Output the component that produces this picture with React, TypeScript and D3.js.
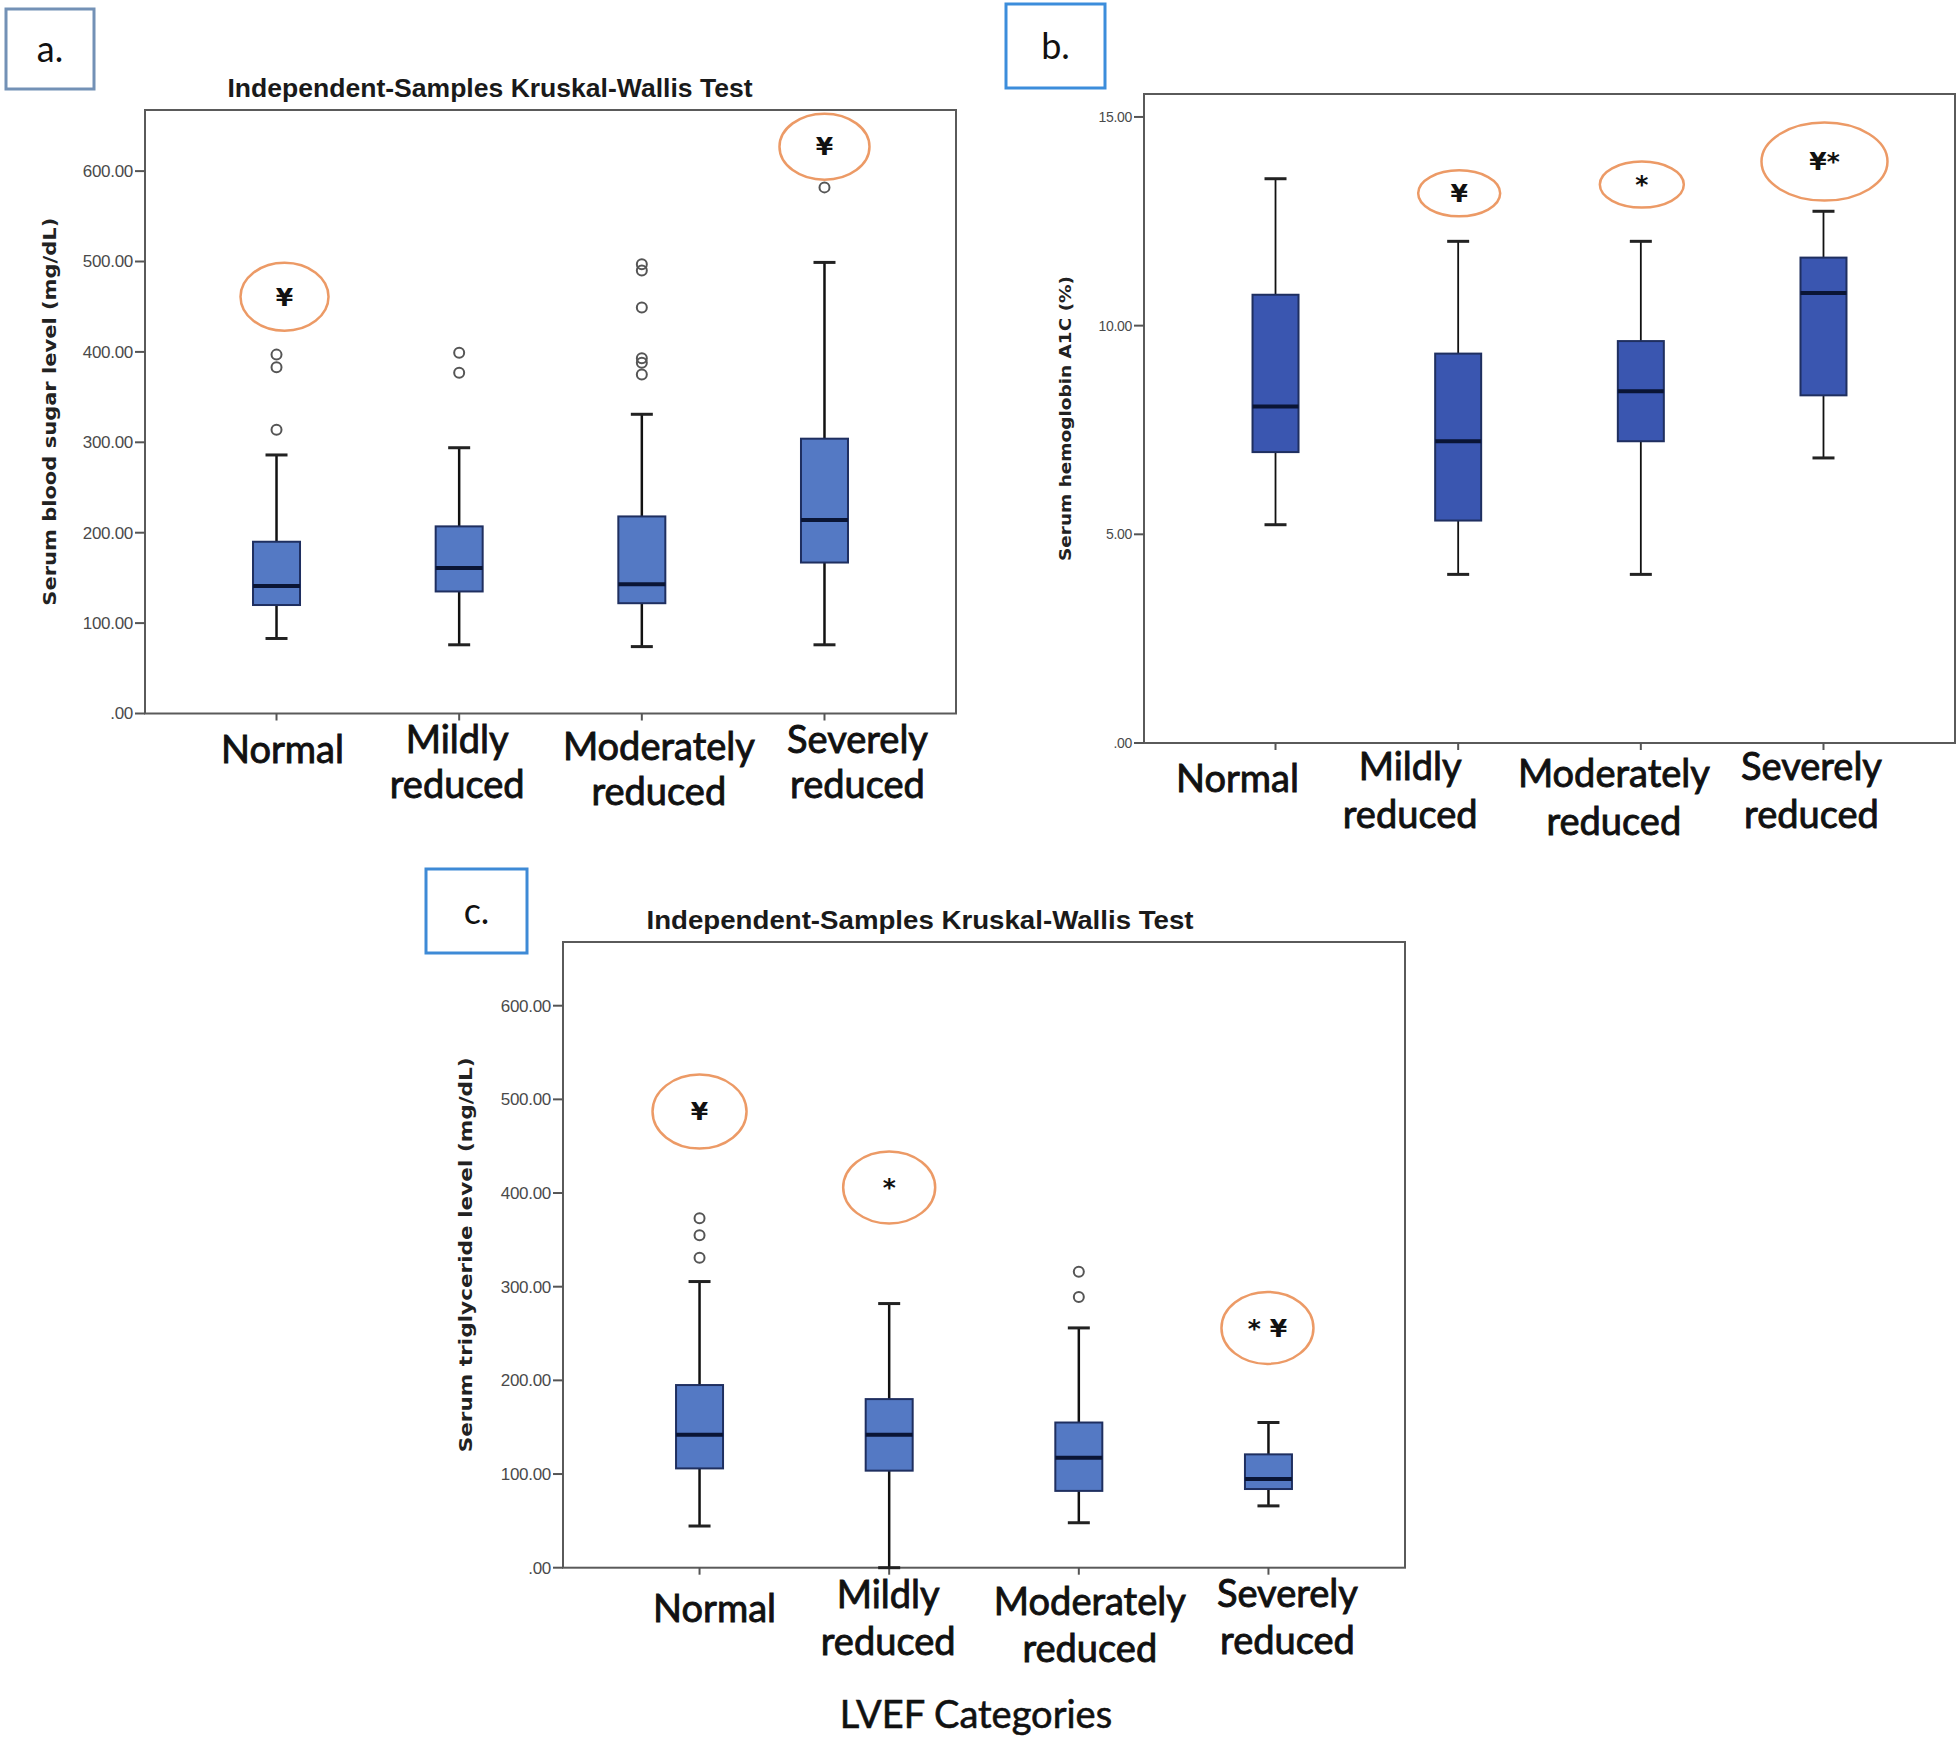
import { useMemo } from 'react';
import * as d3 from 'd3';

// LVEF groups shared by the three panels
const categories = ['Normal', 'Mildly reduced', 'Moderately reduced', 'Severely reduced'];

// box stats: [lower whisker, Q1, median, Q3, upper whisker]
const sugarStats = [
  [83, 120, 141, 190, 286],
  [76, 135, 161, 207, 294],
  [74, 122, 143, 218, 331],
  [76, 167, 214, 304, 499],
];
const sugarOutliers = [[314, 383, 397], [377, 399], [375, 388, 393, 449, 490, 497], [582]];
const sugarMarks = [
  { cat: 0, y: 461, text: '¥' },
  { cat: 3, y: 627, text: '¥' },
];
const sugarTicks = [0, 100, 200, 300, 400, 500, 600];

const hba1cStats = [
  [5.23, 6.97, 8.06, 10.74, 13.52],
  [4.04, 5.33, 7.23, 9.33, 12.02],
  [4.04, 7.23, 8.43, 9.63, 12.02],
  [6.83, 8.33, 10.78, 11.63, 12.74],
];
const hba1cOutliers: number[][] = [[], [], [], []];
const hba1cMarks = [
  { cat: 1, y: 13.17, text: '¥' },
  { cat: 2, y: 13.38, text: '*' },
  { cat: 3, y: 13.93, text: '¥*' },
];
const hba1cTicks = [0, 5, 10, 15];

const tgStats = [
  [44.5, 106, 142, 195, 305.5],
  [0, 103.6, 142, 180, 282],
  [48, 82, 117.5, 155, 256],
  [66, 84, 94.7, 121, 155],
];
const tgOutliers = [[331, 355, 373], [], [289, 316], []];
const tgMarks = [
  { cat: 0, y: 487, text: '¥' },
  { cat: 1, y: 406, text: '*' },
  { cat: 3, y: 256, text: '* ¥' },
];
const tgTicks = [0, 100, 200, 300, 400, 500, 600];

const fmt = (d: number) => (d === 0 ? '.00' : d.toFixed(2));

const LABEL_FONT = "Lato, 'Open Sans', sans-serif";

interface PanelProps {
  stats: number[][];
  outliers: number[][];
  marks: { cat: number; y: number; text: string }[];
  ticks: number[];
  yMax: number;
  frame: { x0: number; x1: number; y0: number; y1: number };
  boxWidth: number;
  fill: string;
  whisker: number;
  tickFont: number;
  yTitle: string;
  yTitleX: number;
  yTitleLen: number;
  yTitleFont: number;
  title?: { x: number; y: number; len: number };
  ellipses: [number, number, number][]; // rx, ry, dx
  labelDx: number[];
  labelBase: number[];
  lineGap: number;
  tag: { x: number; y: number; w: number; h: number; text: string; color: string };
}

function BoxPanel(p: PanelProps) {
  const { frame } = p;
  const x = useMemo(
    () => d3.scalePoint<string>().domain(categories).range([frame.x0, frame.x1]).padding(0.72),
    [frame]
  );
  const y = useMemo(
    () => d3.scaleLinear().domain([0, p.yMax]).range([frame.y1, frame.y0]),
    [frame, p.yMax]
  );
  const bw = p.boxWidth;
  const cap = 22;
  const midY = (frame.y0 + frame.y1) / 2;

  return (
    <g>
      {/* panel tag */}
      <rect x={p.tag.x} y={p.tag.y} width={p.tag.w} height={p.tag.h} fill="#fff"
        stroke={p.tag.color} strokeWidth={3} />
      <text x={p.tag.x + p.tag.w / 2} y={p.tag.y + p.tag.h * 0.66} textAnchor="middle"
        fontFamily={LABEL_FONT} fontSize={36} fill="#111">{p.tag.text}</text>

      {p.title && (
        <text x={p.title.x} y={p.title.y} textAnchor="middle" textLength={p.title.len}
          lengthAdjust="spacingAndGlyphs" fontFamily="'Liberation Sans', Arial, sans-serif"
          fontWeight="bold" fontSize={25} fill="#1a1a1a">
          Independent-Samples Kruskal-Wallis Test
        </text>
      )}

      {/* frame */}
      <rect x={frame.x0} y={frame.y0} width={frame.x1 - frame.x0} height={frame.y1 - frame.y0}
        fill="none" stroke="#5a5a5a" strokeWidth={2} />

      {/* y axis */}
      {p.ticks.map(t => (
        <g key={t}>
          <line x1={frame.x0 - 10} x2={frame.x0} y1={y(t)} y2={y(t)} stroke="#555" strokeWidth={2} />
          <text x={frame.x0 - 12} y={y(t)} dy="0.35em" textAnchor="end"
            fontFamily="'Liberation Sans', Arial, sans-serif" fontSize={p.tickFont}
            fill="#4a4a4a" letterSpacing={-0.3}>{fmt(t)}</text>
        </g>
      ))}
      <text transform={`translate(${p.yTitleX},${midY}) rotate(-90)`} textAnchor="middle"
        dy="0.35em" textLength={p.yTitleLen} lengthAdjust="spacingAndGlyphs"
        fontFamily="'DejaVu Sans', Verdana, sans-serif" fontWeight="bold"
        fontSize={p.yTitleFont} fill="#222">{p.yTitle}</text>

      {/* x ticks + category labels */}
      {categories.map((c, i) => {
        const cx = x(c)!;
        const lines = c.split(' ');
        const lx = cx + p.labelDx[i];
        const ly = frame.y1 + p.labelBase[i];
        return (
          <g key={c}>
            <line x1={cx} x2={cx} y1={frame.y1} y2={frame.y1 + 7} stroke="#555" strokeWidth={2} />
            {lines.map((ln, k) => (
              <text key={ln} x={lx} y={ly + k * p.lineGap} textAnchor="middle"
                fontFamily={LABEL_FONT} fontSize={38} fill="#111"
                stroke="#111" strokeWidth={0.9}>{ln}</text>
            ))}
          </g>
        );
      })}

      {/* boxes */}
      {p.stats.map((s, i) => {
        const cx = x(categories[i])!;
        const [lo, q1, med, q3, hi] = s;
        return (
          <g key={i}>
            <line x1={cx} x2={cx} y1={y(hi)} y2={y(q3)} stroke="#111" strokeWidth={p.whisker} />
            <line x1={cx} x2={cx} y1={y(q1)} y2={y(lo)} stroke="#111" strokeWidth={p.whisker} />
            <line x1={cx - cap / 2} x2={cx + cap / 2} y1={y(hi)} y2={y(hi)} stroke="#222" strokeWidth={3} />
            <line x1={cx - cap / 2} x2={cx + cap / 2} y1={y(lo)} y2={y(lo)} stroke="#222" strokeWidth={3} />
            <rect x={cx - bw / 2} y={y(q3)} width={bw} height={y(q1) - y(q3)}
              fill={p.fill} stroke="#1f2f60" strokeWidth={2} />
            <line x1={cx - bw / 2} x2={cx + bw / 2} y1={y(med)} y2={y(med)} stroke="#0a1535" strokeWidth={4} />
            {p.outliers[i].map((o, k) => (
              <circle key={k} cx={cx} cy={y(o)} r={5} fill="none" stroke="#555" strokeWidth={2} />
            ))}
          </g>
        );
      })}

      {/* significance marks */}
      {p.marks.map((m, k) => {
        const [rx, ry, dx] = p.ellipses[k];
        const cx = x(categories[m.cat])! + dx;
        return (
          <g key={k}>
            <ellipse cx={cx} cy={y(m.y)} rx={rx} ry={ry} fill="#fff" stroke="#ec9a66" strokeWidth={2.5} />
            <text x={cx} y={y(m.y)} dy="0.35em" textAnchor="middle"
              fontFamily="'DejaVu Sans', sans-serif" fontWeight="bold" fontSize={25} fill="#111">{m.text}</text>
          </g>
        );
      })}
    </g>
  );
}

export default function App() {
  return (
    <svg width={1960} height={1738} style={{ position: 'absolute', left: 0, top: 0, background: '#fff' }}>
      <rect width={1960} height={1738} fill="#fff" />
      <BoxPanel
        stats={sugarStats} outliers={sugarOutliers} marks={sugarMarks} ticks={sugarTicks}
        yMax={667.6} frame={{ x0: 145, x1: 956, y0: 110, y1: 713.5 }}
        boxWidth={47} fill="#5479c4" whisker={2.5} tickFont={17}
        yTitle="Serum blood sugar level (mg/dL)" yTitleX={50} yTitleLen={388} yTitleFont={18}
        title={{ x: 490, y: 97, len: 525 }}
        ellipses={[[44, 34, 8], [45, 33, 0]]}
        labelDx={[6, -2, 17, 33]} labelBase={[49, 39, 46, 39]} lineGap={45}
        tag={{ x: 6, y: 9, w: 88, h: 80, text: 'a.', color: '#7391b6' }}
      />
      <BoxPanel
        stats={hba1cStats} outliers={hba1cOutliers} marks={hba1cMarks} ticks={hba1cTicks}
        yMax={15.55} frame={{ x0: 1144, x1: 1955, y0: 94, y1: 743 }}
        boxWidth={46} fill="#3a56b0" whisker={1.8} tickFont={14}
        yTitle="Serum hemoglobin A1C (%)" yTitleX={1065} yTitleLen={285} yTitleFont={16}
        ellipses={[[41, 23, 1], [42, 23, 1], [63, 39, 1]]}
        labelDx={[-38, -48, -27, -12]} labelBase={[49, 37, 44, 37]} lineGap={48}
        tag={{ x: 1006, y: 4, w: 99, h: 84, text: 'b.', color: '#3c8ddb' }}
      />
      <BoxPanel
        stats={tgStats} outliers={tgOutliers} marks={tgMarks} ticks={tgTicks}
        yMax={668} frame={{ x0: 563, x1: 1405, y0: 942, y1: 1567.7 }}
        boxWidth={47} fill="#5479c4" whisker={2.5} tickFont={17}
        yTitle="Serum triglyceride level (mg/dL)" yTitleX={466} yTitleLen={395} yTitleFont={18}
        title={{ x: 920, y: 929, len: 547 }}
        ellipses={[[47, 37, 0], [46, 36, 0], [46, 36, -1]]}
        labelDx={[15, -1, 11, 19]} labelBase={[54, 40, 47, 39]} lineGap={47}
        tag={{ x: 426, y: 869, w: 101, h: 84, text: 'c.', color: '#3e8ad6' }}
      />
      <text x={976} y={1728} textAnchor="middle" fontFamily={LABEL_FONT}
        fontSize={38} fill="#111" stroke="#111" strokeWidth={0.6}>LVEF Categories</text>
    </svg>
  );
}
